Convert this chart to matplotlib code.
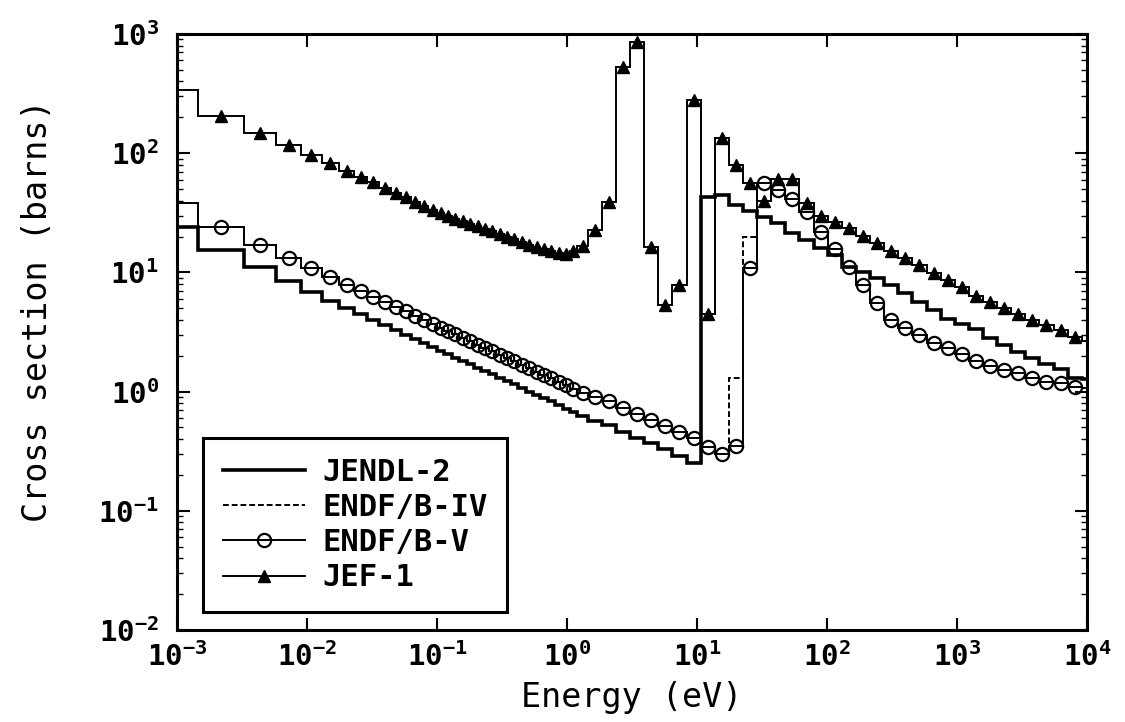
import numpy as np
import matplotlib
matplotlib.use('Agg')
import matplotlib.pyplot as plt
from matplotlib.lines import Line2D
from matplotlib.ticker import LogLocator, NullLocator, NullFormatter

## Group structure (eV) and group-averaged cross sections (barns)
energy_edges = [0.001, 0.00145, 0.00325, 0.0058, 0.009, 0.013, 0.0177, 0.023, 0.029, 0.036,
                0.044, 0.053, 0.063, 0.074, 0.086, 0.1, 0.114, 0.13, 0.148, 0.169,
                0.193, 0.22, 0.25, 0.285, 0.325, 0.37, 0.42, 0.48, 0.55, 0.625,
                0.71, 0.81, 0.925, 1.05, 1.2, 1.445, 1.8554, 2.3824, 3.059, 3.9279,
                5.0435, 6.476, 8.3153, 10.677, 13.71, 17.603, 22.603, 29.023, 37.267, 47.851,
                61.442, 78.893, 101.3, 130.07, 167.02, 214.45, 275.36, 353.58, 454.0, 582.95,
                748.52, 961.12, 1234.1, 1584.6, 2034.7, 2612.6, 3354.6, 4307.4, 5530.8, 7101.7,
                9118.8, 10000.0]

jendl2 = [24, 15.3, 11.0, 8.5, 6.9, 5.8, 5.05, 4.5, 4.0, 3.6,
          3.27, 3.0, 2.75, 2.56, 2.37, 2.2, 2.06, 1.93, 1.81, 1.7,
          1.59, 1.48, 1.4, 1.3, 1.22, 1.15, 1.07, 1.0, 0.94, 0.88,
          0.83, 0.77, 0.72, 0.68, 0.63, 0.57, 0.52, 0.46, 0.41, 0.37,
          0.33, 0.29, 0.253, 43, 45, 37, 33, 29, 25.8, 21.5,
          18.6, 15.9, 13.9, 11.0, 10.0, 8.9, 7.8, 6.7, 5.6, 4.8,
          4.1, 3.66, 3.38, 2.84, 2.44, 2.13, 1.93, 1.72, 1.56, 1.31,
          1.28]

endf4 = [38, 24, 17.1, 13.3, 10.8, 9.1, 7.9, 7.0, 6.25, 5.65,
         5.1, 4.7, 4.3, 4.0, 3.7, 3.45, 3.22, 3.02, 2.83, 2.65,
         2.48, 2.32, 2.18, 2.04, 1.91, 1.79, 1.68, 1.57, 1.47, 1.38,
         1.29, 1.21, 1.13, 1.06, 0.98, 0.9, 0.83, 0.73, 0.65, 0.58,
         0.51, 0.46, 0.41, 0.34, 0.30, 1.29, 19.7, 56, 49, 41,
         31.9, 21.7, 15.6, 11.0, 7.8, 5.5, 4.0, 3.4, 2.96, 2.58,
         2.30, 2.05, 1.82, 1.65, 1.53, 1.42, 1.31, 1.21, 1.17, 1.10,
         1.07]

endf5 = [38, 24, 17.1, 13.3, 10.8, 9.1, 7.9, 7.0, 6.25, 5.65,
         5.1, 4.7, 4.3, 4.0, 3.7, 3.45, 3.22, 3.02, 2.83, 2.65,
         2.48, 2.32, 2.18, 2.04, 1.91, 1.79, 1.68, 1.57, 1.47, 1.38,
         1.29, 1.21, 1.13, 1.06, 0.98, 0.9, 0.83, 0.73, 0.65, 0.58,
         0.51, 0.46, 0.41, 0.34, 0.30, 0.35, 10.8, 56, 49, 41,
         31.9, 21.7, 15.6, 11.0, 7.8, 5.5, 4.0, 3.4, 2.96, 2.58,
         2.30, 2.05, 1.82, 1.65, 1.53, 1.42, 1.31, 1.21, 1.17, 1.10,
         1.07]

jef1 = [340, 205, 147, 117, 96, 82, 71, 63, 57, 51,
        46.5, 43, 39, 36, 33.5, 31.5, 29.8, 28.3, 27, 25.6,
        24.4, 23.2, 22.1, 21, 20, 19, 18, 17.1, 16.3, 15.6,
        15, 14.6, 14.4, 15, 16.8, 22.5, 38.7, 528, 857, 16.2,
        5.3, 7.8, 278, 4.5, 134, 79, 56, 40, 61, 61,
        38, 30, 26.3, 23.4, 20.1, 17.5, 15.0, 13.1, 11.5, 9.8,
        8.6, 7.5, 6.4, 5.7, 5.0, 4.5, 3.95, 3.6, 3.26, 2.85,
        2.65]

labels = ['JENDL-2', 'ENDF/B-IV', 'ENDF/B-V', 'JEF-1']

xticks = [1e-3, 1e-2, 1e-1, 1e0, 1e1, 1e2, 1e3, 1e4]
xticklabels = ['10$^{-3}$', '10$^{-2}$', '10$^{-1}$', '10$^{0}$', '10$^{1}$', '10$^{2}$', '10$^{3}$', '10$^{4}$']
yticks = [1e-2, 1e-1, 1e0, 1e1, 1e2, 1e3]
yticklabels = ['10$^{-2}$', '10$^{-1}$', '10$^{0}$', '10$^{1}$', '10$^{2}$', '10$^{3}$']

plt.rcParams['font.family'] = ['DejaVu Sans Mono']
plt.rcParams['font.weight'] = 'bold'
plt.rcParams['mathtext.default'] = 'regular'

fig = plt.figure(figsize=(11.25, 7.22), dpi=100)
ax = fig.add_axes([0.1573, 0.1274, 0.8089, 0.8255])

edges = np.array(energy_edges)
mid = np.sqrt(edges[:-1] * edges[1:])
dash = (0, (3, 1.5))

ax.stairs(jendl2, edges, baseline=None, color='k', lw=2.6)
ax.stairs(endf4, edges, baseline=None, color='k', lw=1.4, linestyle=dash)
ax.stairs(endf5, edges, baseline=None, color='k', lw=1.4)
ax.plot(mid[1:-1], endf5[1:-1], 'o', mfc='none', mec='k', ms=9.5, mew=1.6)
ax.stairs(jef1, edges, baseline=None, color='k', lw=1.4)
ax.plot(mid[1:-1], jef1[1:-1], '^', color='k', ms=8)

ax.set_xscale('log')
ax.set_yscale('log')
ax.set_xlim(1e-3, 1e4)
ax.set_ylim(1e-2, 1e3)
ax.set_xticks(xticks)
ax.set_xticklabels(xticklabels)
ax.set_yticks(yticks)
ax.set_yticklabels(yticklabels)
ax.xaxis.set_minor_locator(NullLocator())
ax.yaxis.set_minor_locator(LogLocator(base=10, subs=range(2, 10)))
ax.yaxis.set_minor_formatter(NullFormatter())
ax.tick_params(which='both', direction='in', top=True, right=True)
ax.tick_params(which='major', length=9, width=1.5, labelsize=21)
ax.tick_params(which='minor', length=4, width=1)
ax.tick_params(axis='x', pad=9)
ax.tick_params(axis='y', pad=13)
for s in ax.spines.values():
    s.set_linewidth(2.2)

ax.set_xlabel('Energy (eV)', fontsize=24)
ax.set_ylabel('Cross section (barns)', fontsize=24)
ax.xaxis.set_label_coords(0.5, -0.085)
ax.yaxis.set_label_coords(-0.135, 0.535)

handles = [Line2D([], [], color='k', lw=2.6),
           Line2D([], [], color='k', lw=1.4, linestyle=dash),
           Line2D([], [], color='k', lw=1.4, marker='o', mfc='none', ms=9.5, mew=1.6),
           Line2D([], [], color='k', lw=1.4, marker='^', ms=8)]
leg = ax.legend(handles, labels, loc='lower left', bbox_to_anchor=(0.0286, 0.03),
                borderaxespad=0, fancybox=False, edgecolor='k', framealpha=1,
                fontsize=22, handlelength=2.7, handletextpad=0.55, labelspacing=0.2,
                borderpad=0.65, numpoints=1)
leg.get_frame().set_linewidth(2.2)

fig.savefig('out.png', dpi=100)
